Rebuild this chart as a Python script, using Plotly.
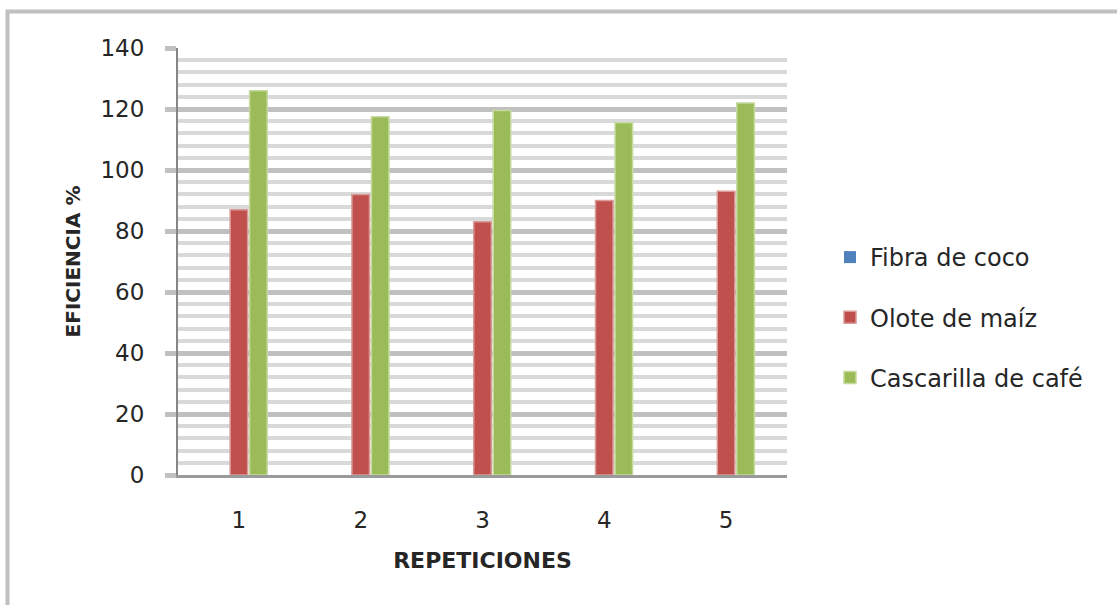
import plotly.graph_objects as go

categories = ["1", "2", "3", "4", "5"]
fibra_coco = [0, 0, 0, 0, 0]
olote_maiz = [87, 92, 83, 90, 93]
cascarilla_cafe = [126, 117.5, 119.5, 115.5, 122]
y_ticks = [0, 20, 40, 60, 80, 100, 120, 140]

W, H = 1117, 605
L, R, T, B = 178, 787, 48, 475
pw, ph = R - L, B - T

def px_x(x):
    return (x - L) / pw

def px_y(y):
    return (B - y) / ph

fig = go.Figure()
fig.add_trace(go.Bar(x=categories, y=fibra_coco, name="Fibra de coco",
                     marker=dict(color="#4F81BD", line=dict(width=0)),
                     legendgroup="a"))
fig.add_trace(go.Bar(x=categories, y=olote_maiz, name="Olote de maíz",
                     marker=dict(color="#C0504D", line=dict(color="#DA9A98", width=1.5)),
                     legendgroup="b"))
fig.add_trace(go.Bar(x=categories, y=cascarilla_cafe, name="Cascarilla de café",
                     marker=dict(color="#9BBB59", line=dict(color="#C6DA9E", width=1.5)),
                     legendgroup="c"))

font_main = "DejaVu Sans"
fig.update_layout(
    width=W, height=H,
    margin=dict(l=L, r=W - R, t=T, b=H - B, pad=0),
    paper_bgcolor="white", plot_bgcolor="white",
    barmode="group", bargap=0.52, bargroupgap=0.1,
    font=dict(family=font_main, size=23, color="#262626"),
    showlegend=True,
    legend=dict(x=px_x(830), y=px_y(235), xanchor="left", yanchor="top",
                xref="paper", yref="paper",
                traceorder="grouped", tracegroupgap=26,
                font=dict(size=24, color="#262626"),
                bgcolor="rgba(0,0,0,0)"),
    xaxis=dict(type="category", showline=True, linecolor="#9A9A9A", linewidth=3,
               ticks="", showgrid=False, ticklabelstandoff=22,
               tickfont=dict(size=23, color="#262626"),
               title=dict(text="<b>REPETICIONES</b>", standoff=22,
                          font=dict(size=22, color="#262626"))),
    yaxis=dict(range=[0, 140], tickmode="array", tickvals=y_ticks,
               ticktext=[str(v) for v in y_ticks],
               showline=True, linecolor="#868686", linewidth=2,
               ticks="outside", ticklen=11, tickwidth=5, tickcolor="#C0C0C0",
               showgrid=True, gridcolor="#C0C0C0", gridwidth=5,
               zeroline=False,
               minor=dict(dtick=4, tick0=0, showgrid=True, gridcolor="#D9D9D9",
                          gridwidth=4, ticks=""),
               ticklabelstandoff=16,
               tickfont=dict(size=23, color="#262626"),
               title=dict(text="<b>EFICIENCIA %</b>", standoff=14,
                          font=dict(size=20, color="#262626"))),
    shapes=[dict(type="rect", xref="paper", yref="paper",
                 x0=px_x(7.5), x1=px_x(1140), y0=px_y(640), y1=px_y(11.5),
                 line=dict(color="#C0C0C0", width=4), fillcolor="rgba(0,0,0,0)",
                 layer="below")],
)

fig.write_html("out.html")
